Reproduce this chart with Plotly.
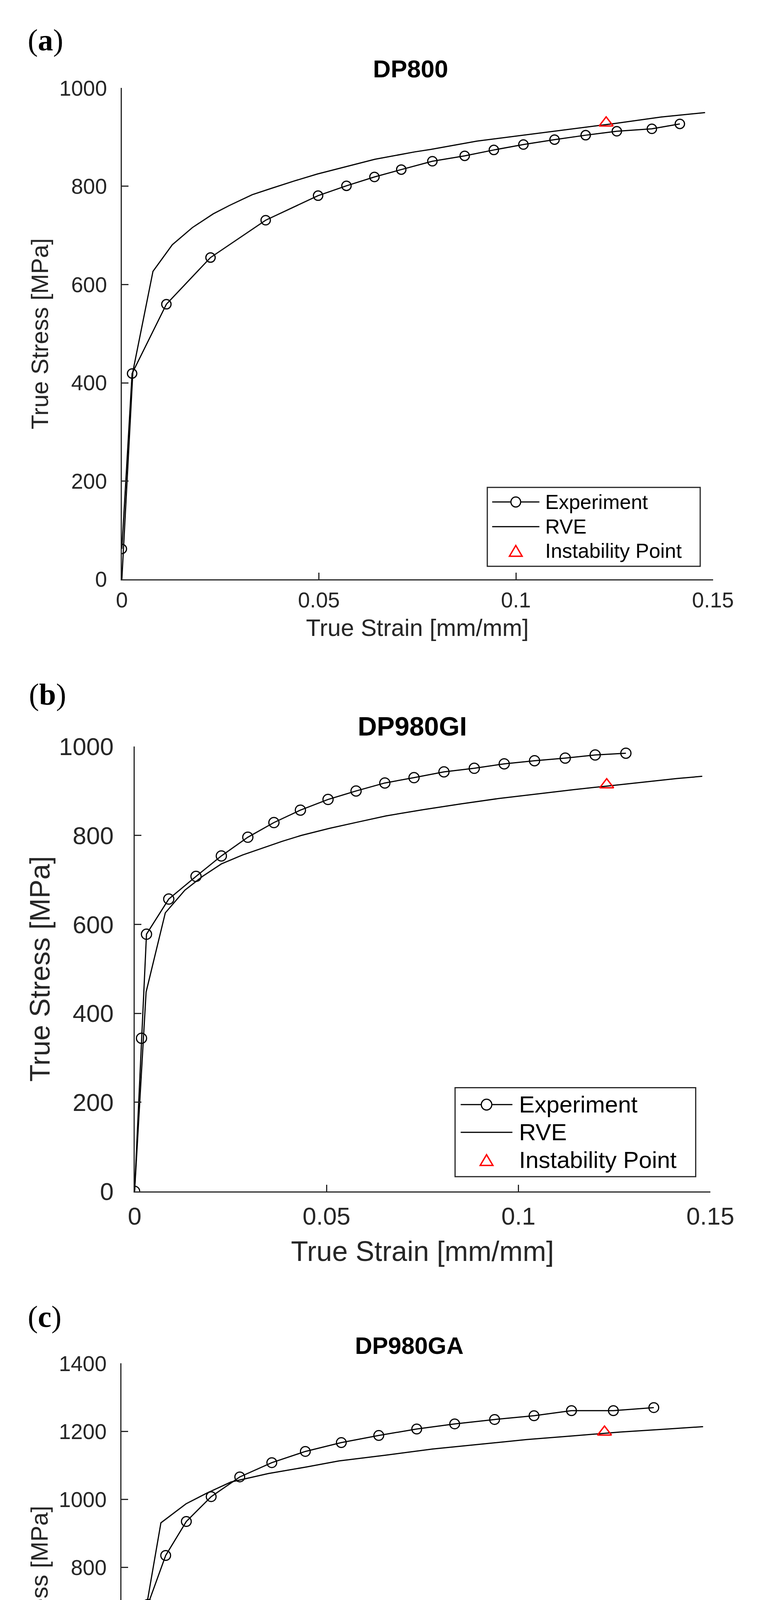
import plotly.graph_objects as go
from plotly.subplots import make_subplots

# (a) DP800
exp_a_strain = [0, 0.0026, 0.0113, 0.0225, 0.0365, 0.0498, 0.0570, 0.0641, 0.0709, 0.0788,
                0.0870, 0.0944, 0.1019, 0.1098, 0.1177, 0.1256, 0.1345, 0.1416]
exp_a_stress = [62, 419, 560, 655, 731, 781, 801, 819, 834, 851,
                862, 874, 885, 895, 904, 912, 917, 927]
rve_a_strain = [0, 0.0028, 0.0079, 0.0128, 0.0179, 0.0232, 0.0273, 0.0331, 0.0380, 0.0438, 0.0496,
                0.0569, 0.0642, 0.0743, 0.0784, 0.0901, 0.1018, 0.1135, 0.1252, 0.1369, 0.1480]
rve_a_stress = [0, 423, 627, 681, 716, 744, 761, 783, 796, 811, 825,
                840, 855, 870, 875, 892, 904, 916, 928, 941, 950]
inst_a_strain = [0.1229]
inst_a_stress = [929]

# (b) DP980GI
exp_b_strain = [0, 0.0018, 0.0031, 0.0089, 0.0160, 0.0226, 0.0295, 0.0363, 0.0432, 0.0504,
                0.0577, 0.0652, 0.0728, 0.0806, 0.0885, 0.0963, 0.1042, 0.1122, 0.1200, 0.1280]
exp_b_stress = [0, 344, 578, 657, 708, 754, 796, 829, 857, 881,
                900, 918, 930, 943, 951, 961, 968, 974, 981, 985]
rve_b_strain = [0, 0.0030, 0.0080, 0.0131, 0.0177, 0.0226, 0.0281, 0.0385, 0.0434, 0.0508, 0.0581,
                0.0655, 0.0752, 0.0850, 0.0948, 0.1046, 0.1144, 0.1230, 0.1328, 0.1413, 0.1479]
rve_b_stress = [0, 448, 626, 677, 708, 736, 756, 787, 800, 816, 830,
                844, 858, 871, 883, 893, 903, 911, 920, 928, 933]
inst_b_strain = [0.1230]
inst_b_stress = [914]

# (c) DP980GA
exp_c_strain = [0, 0.00157, 0.00162, 0.00173, 0.00276, 0.00537, 0.00897, 0.01316, 0.0182, 0.0240,
                0.0305, 0.0373, 0.0446, 0.0522, 0.0599, 0.0676, 0.0757, 0.0837, 0.0913, 0.0998, 0.1080]
exp_c_stress = [0, 307, 336, 350, 493, 691, 835, 935, 1008, 1066,
                1108, 1141, 1167, 1188, 1207, 1222, 1235, 1246, 1261, 1261, 1270]
rve_c_strain = [0, 0.0028, 0.0080, 0.0131, 0.0174, 0.0222, 0.0298, 0.0374, 0.0441, 0.0536,
                0.0631, 0.0727, 0.0822, 0.0917, 0.1012, 0.1108, 0.1180]
rve_c_stress = [0, 495, 931, 987, 1019, 1051, 1076, 1095, 1113, 1130,
                1148, 1162, 1176, 1187, 1198, 1207, 1214]
inst_c_strain = [0.0980]
inst_c_stress = [1198]

legend_names = ['Experiment', 'RVE', 'Instability Point']

W, H = 1964, 4924
AXIS_COLOR = '#262626'
FONT = 'Liberation Sans, Arial, sans-serif'


def fx(px):
    return px / W


def fy(py):
    return 1 - py / H


# pixel layout of each panel (plot box, text positions, legend box)
panels = [
    dict(label='a', title='DP800', data=(exp_a_strain, exp_a_stress, rve_a_strain, rve_a_stress, inst_a_strain, inst_a_stress),
         box=(298, 185, 1875, 1461), xr=[0, 0.15], yr=[0, 1000], xt=[0, 0.05, 0.1, 0.15], yt=[0, 200, 400, 600, 800, 1000],
         tick=55, lab=61, tit=63, leg=52, msize=24, label_pos=(94, 60), title_pos=(1068, 135),
         xpad=3, xstand=20, ypad=24, ystand=9,
         legbox=(1273, 1222, 1841, 1427), sample=(1286, 1412), text_x=1425, rows=(1260, 1324, 1387)),
    dict(label='b', title='DP980GI', data=(exp_b_strain, exp_b_stress, rve_b_strain, rve_b_stress, inst_b_strain, inst_b_stress),
         box=(332, 1895, 1868, 3050), xr=[0, 0.15], yr=[0, 1000], xt=[0, 0.05, 0.1, 0.15], yt=[0, 200, 400, 600, 800, 1000],
         tick=63, lab=72, tit=68, leg=60, msize=26, label_pos=(99, 1760), title_pos=(1073, 1842),
         xpad=7, xstand=31, ypad=38, ystand=0,
         legbox=(1187, 2781, 1829, 3012), sample=(1202, 1340), text_x=1356, rows=(2825, 2897, 2969)),
    dict(label='c', title='DP980GA', data=(exp_c_strain, exp_c_stress, rve_c_strain, rve_c_stress, inst_c_strain, inst_c_stress),
         box=(297, 3497, 1875, 4733), xr=[0, 0.12], yr=[0, 1400], xt=[0, 0.02, 0.04, 0.06, 0.08, 0.1, 0.12],
         yt=[0, 200, 400, 600, 800, 1000, 1200, 1400],
         tick=55, lab=61, tit=61, leg=52, msize=25, label_pos=(92, 3375), title_pos=(1065, 3451),
         xpad=3, xstand=20, ypad=24, ystand=9,
         legbox=(1283, 4499, 1841, 4699), sample=(1296, 1415), text_x=1430, rows=(4538, 4601, 4663)),
]

fig = make_subplots(rows=3, cols=1)
shapes = []
annotations = []

for i, p in enumerate(panels):
    row = i + 1
    es, ey, rs, ry, ist, isy = p['data']
    fig.add_trace(go.Scatter(x=es, y=ey, mode='lines+markers', name=legend_names[0],
                             line=dict(color='black', width=3),
                             marker=dict(symbol='circle-open', size=p['msize'], color='black', line=dict(width=3))),
                  row=row, col=1)
    fig.add_trace(go.Scatter(x=rs, y=ry, mode='lines', name=legend_names[1],
                             line=dict(color='black', width=3)), row=row, col=1)
    fig.add_trace(go.Scatter(x=ist, y=isy, mode='markers', name=legend_names[2],
                             marker=dict(symbol='triangle-up-open', size=31, color='red', line=dict(width=3.5))),
                  row=row, col=1)

    x0, y0, x1, y1 = p['box']
    axis_common = dict(showline=True, linecolor=AXIS_COLOR, linewidth=3, mirror=False,
                       ticks='inside', ticklen=17, tickwidth=3, tickcolor=AXIS_COLOR,
                       showgrid=False, zeroline=False,
                       tickfont=dict(family=FONT, size=p['tick'], color=AXIS_COLOR))
    fig.update_xaxes(domain=[fx(x0), fx(x1)], range=p['xr'], tickvals=p['xt'],
                     title=dict(text='True Strain [mm/mm]', font=dict(family=FONT, size=p['lab'], color=AXIS_COLOR),
                                standoff=p['xstand']),
                     ticklabelstandoff=p['xpad'], **axis_common, row=row, col=1)
    fig.update_yaxes(domain=[fy(y1), fy(y0)], range=p['yr'], tickvals=p['yt'],
                     title=dict(text='True Stress [MPa]', font=dict(family=FONT, size=p['lab'], color=AXIS_COLOR),
                                standoff=p['ystand']),
                     ticklabelstandoff=p['ypad'], **axis_common, row=row, col=1)

    # panel letter and title
    annotations.append(dict(text='(<b>%s</b>)' % p['label'], x=fx(p['label_pos'][0]), y=fy(p['label_pos'][1]),
                            xref='paper', yref='paper', showarrow=False, xanchor='center', yanchor='middle',
                            font=dict(family='Liberation Serif, serif', size=78, color='black')))
    annotations.append(dict(text='<b>%s</b>' % p['title'], x=fx(p['title_pos'][0]), y=fy(p['title_pos'][1]),
                            xref='paper', yref='paper', showarrow=False, xanchor='center', yanchor='middle',
                            font=dict(family=FONT, size=p['tit'], color='black')))

    # legend box drawn by hand so the line samples keep their long MATLAB look
    lx0, ly0, lx1, ly1 = p['legbox']
    shapes.append(dict(type='rect', xref='paper', yref='paper', x0=fx(lx0), x1=fx(lx1), y0=fy(ly1), y1=fy(ly0),
                       line=dict(color=AXIS_COLOR, width=3), fillcolor='white', layer='above'))
    sx0, sx1 = p['sample']
    mid = (sx0 + sx1) / 2
    r1, r2, r3 = p['rows']
    for ry_ in (r1, r2):
        shapes.append(dict(type='line', xref='paper', yref='paper', x0=fx(sx0), x1=fx(sx1), y0=fy(ry_), y1=fy(ry_),
                           line=dict(color='black', width=3), layer='above'))
    rad = p['msize'] / 2 + 1
    shapes.append(dict(type='circle', xref='paper', yref='paper', x0=fx(mid - rad), x1=fx(mid + rad),
                       y0=fy(r1 + rad), y1=fy(r1 - rad), line=dict(color='black', width=3), fillcolor='white', layer='above'))
    tw, th = 17, 14
    shapes.append(dict(type='path', xref='paper', yref='paper',
                       path='M %f %f L %f %f L %f %f Z' % (fx(mid - tw), fy(r3 + th), fx(mid + tw), fy(r3 + th), fx(mid), fy(r3 - th)),
                       line=dict(color='red', width=3.5), layer='above'))
    for name, ry_ in zip(legend_names, (r1, r2, r3)):
        annotations.append(dict(text=name, x=fx(p['text_x']), y=fy(ry_), xref='paper', yref='paper',
                                showarrow=False, xanchor='left', yanchor='middle',
                                font=dict(family=FONT, size=p['leg'], color='black')))

fig.update_layout(
    width=W, height=H,
    margin=dict(l=0, r=0, t=0, b=0),
    plot_bgcolor='white', paper_bgcolor='white',
    showlegend=False,
    shapes=shapes, annotations=annotations,
)

fig.write_html("out.html")
